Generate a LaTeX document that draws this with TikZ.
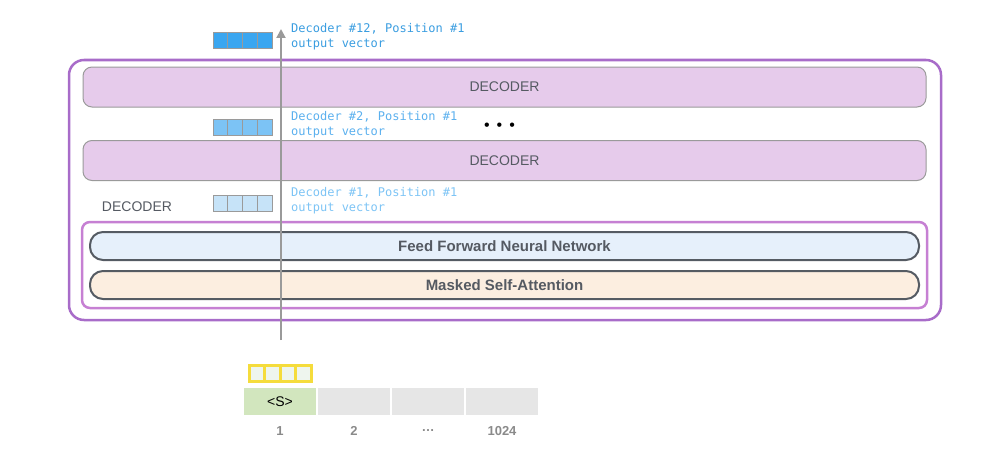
\documentclass[tikz,border=0pt]{standalone}
\usepackage{fontspec}
\setmainfont{Liberation Sans}
\newfontfamily\monof{DejaVu Sans Mono}
\usetikzlibrary{arrows.meta}
\definecolor{outerpurple}{HTML}{A86CC9}
\definecolor{innerpurple}{HTML}{C680D3}
\definecolor{decfill}{HTML}{E6CBEB}
\definecolor{decdraw}{HTML}{9A9A9A}
\definecolor{ffnfill}{HTML}{E6F0FB}
\definecolor{msafill}{HTML}{FCEEE0}
\definecolor{pilldraw}{HTML}{555B63}
\definecolor{vecA}{HTML}{3AA6F0}
\definecolor{vecB}{HTML}{7CC3F5}
\definecolor{vecC}{HTML}{C6E3F8}
\definecolor{txtA}{HTML}{3A9DE0}
\definecolor{txtB}{HTML}{5BB0EE}
\definecolor{txtC}{HTML}{7DC4F5}
\definecolor{darktxt}{HTML}{555A62}
\definecolor{numgray}{HTML}{8A8A8A}
\definecolor{tokgreen}{HTML}{D2E6BE}
\definecolor{tokgray}{HTML}{E6E6E6}
\definecolor{ylw}{HTML}{F5DC3C}
\definecolor{ylwfill}{HTML}{EEF5EE}
\definecolor{arrowgray}{HTML}{9A9A9A}
\tikzset{
  decbox/.style={draw=decdraw, line width=1pt, fill=decfill, rounded corners=9pt, minimum width=843pt, minimum height=40pt, inner sep=0pt, font=\fontsize{14}{16}\selectfont, text=darktxt},
  pill/.style={draw=pilldraw, line width=2pt, rounded corners=13pt, minimum width=829pt, minimum height=28pt, inner sep=0pt, font=\bfseries\fontsize{15}{17}\selectfont, text=darktxt},
  vlabel/.style={anchor=north west, align=left, inner sep=0pt, font=\monof\fontsize{12}{14.5}\selectfont},
  vcell/.style={draw=decdraw, line width=1pt},
  tok/.style={minimum width=72pt, minimum height=27pt, inner sep=0pt, font=\fontsize{14}{16}\selectfont},
  num/.style={text=numgray, font=\bfseries\fontsize{13}{15}\selectfont},
}
\begin{document}
\begin{tikzpicture}[x=1pt,y=-1pt]
\useasboundingbox (0,0) rectangle (992,452);
% outer boxes
\node[draw=outerpurple, line width=2.5pt, rounded corners=15pt, minimum width=872pt, minimum height=260pt, inner sep=0pt] (outer) at (505,190) {};
\node[decbox] (dec1) at (504.5,87) {DECODER};
\node[decbox] (dec2) at (504.5,160.5) {DECODER};
\node[text=darktxt, font=\fontsize{14}{16}\selectfont] (declab) at (137,207) {DECODER};
\node[draw=innerpurple, line width=2.5pt, rounded corners=8pt, minimum width=845pt, minimum height=86pt, inner sep=0pt] (inner) at (504.5,265) {};
\node[pill, fill=ffnfill] (ffn) at (504.5,246) {Feed Forward Neural Network};
\node[pill, fill=msafill] (msa) at (504.5,285) {Masked Self-Attention};
% vectors
\foreach \y/\c in {33/vecA,119/vecB,195/vecC}{
  \foreach \i in {0,1,2,3}{
    \draw[vcell, fill=\c] (213+\i*14.75,\y) rectangle (213+\i*14.75+14.75,\y+16);
  }
}
\node[vlabel, text=txtA] (lab12) at (291,23.5) {Decoder \#12, Position \#1\\output vector};
\node[vlabel, text=txtB] (lab2) at (291,111.5) {Decoder \#2, Position \#1\\output vector};
\node[vlabel, text=txtC] (lab1) at (291,187.5) {Decoder \#1, Position \#1\\output vector};
\node[font=\fontsize{16}{16}\selectfont, inner sep=0pt] (dots) at (499.5,127) {\textbullet\hspace{7pt}\textbullet\hspace{7pt}\textbullet};
% arrow
\coordinate (astart) at (281,340);
\coordinate (aend) at (281,29);
\draw[arrowgray, line width=2pt, -{Triangle[length=9pt,width=9pt]}] (astart) -- (aend);
% yellow input vector
\draw[ylw, line width=3pt, fill=ylwfill] (249,365.5) rectangle (311,381.5);
\foreach \i in {1,2,3}{ \draw[ylw, line width=3pt] (249+\i*15.5,365.5) -- (249+\i*15.5,381.5); }
% tokens
\node[tok, fill=tokgreen] (t1) at (280,401.5) {<S>};
\node[tok, fill=tokgray] (t2) at (354,401.5) {};
\node[tok, fill=tokgray] (t3) at (428,401.5) {};
\node[tok, fill=tokgray] (t4) at (502,401.5) {};
\node[num] (n1) at (280,431) {1};
\node[num] (n2) at (354,431) {2};
\node[num] (n3) at (428,431) {\dots};
\node[num] (n4) at (502,431) {1024};
\end{tikzpicture}
\end{document}
